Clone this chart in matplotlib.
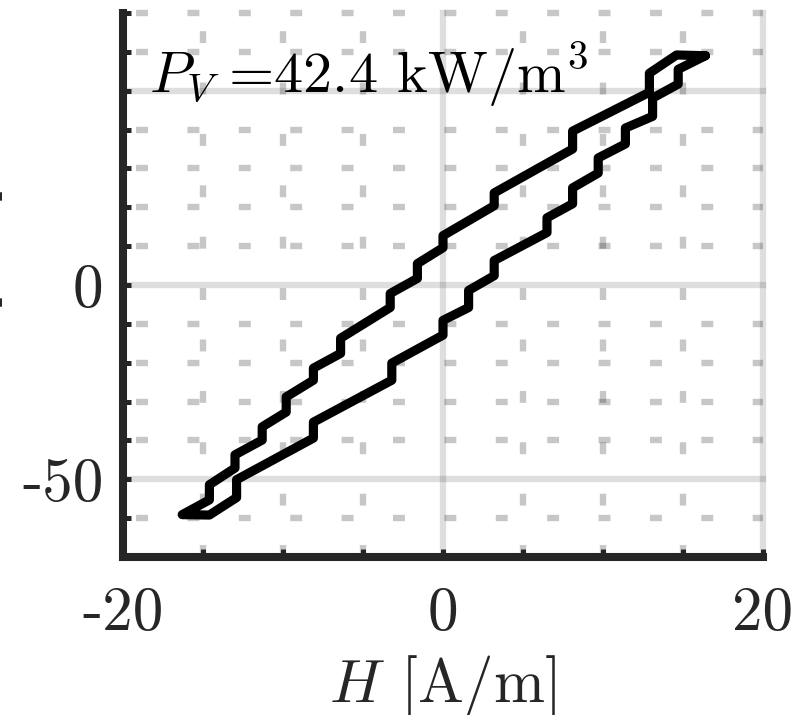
import matplotlib
matplotlib.use('Agg')
import matplotlib.pyplot as plt

# descending branch (upper), from positive tip to negative tip
H_desc = [16.4, 14.6, 12.9, 12.9, 8.1, 8.1, 3.2, 3.2, 0.0, 0.0, -1.6, -1.6, -3.3, -3.3,
          -6.4, -6.4, -8.1, -8.1, -9.8, -9.8, -11.3, -11.3, -13.0, -13.0, -14.6, -14.6, -16.3]
B_desc = [59.0, 59.2, 54.5, 49.6, 39.6, 35.0, 23.7, 20.4, 12.7, 9.6, 5.5, 1.7, -2.2, -5.8,
          -13.7, -17.6, -21.4, -24.5, -28.8, -32.7, -36.5, -39.9, -43.7, -47.1, -51.4, -55.3, -59.1]

# ascending branch (lower), from negative tip to positive tip
H_asc = [-16.3, -14.6, -12.9, -12.9, -8.1, -8.1, -3.2, -3.2, 0.0, 0.0, 1.6, 1.6, 3.2, 3.2,
         6.5, 6.5, 8.1, 8.1, 9.7, 9.7, 11.4, 11.4, 13.1, 13.1, 14.7, 14.7, 16.4]
B_asc = [-59.1, -59.2, -54.7, -50.1, -39.4, -35.3, -24.5, -20.1, -12.9, -9.1, -5.8, -1.4, 2.4, 6.3,
         13.5, 17.3, 20.9, 25.0, 28.8, 32.7, 36.3, 40.4, 43.4, 48.1, 51.7, 55.5, 59.0]

x_ticks = [-20, 0, 20]
x_ticklabels = ['-20', '0', '20']
y_ticks = [-50, 0, 50]
y_ticklabels = ['-50', '0', '']
x_minor = [-15, -10, -5, 5, 10, 15]
y_minor = [-70, -60, -40, -30, -20, -10, 10, 20, 30, 40, 60, 70]

plt.rcParams['font.family'] = 'serif'
plt.rcParams['font.serif'] = ['cmr10']
plt.rcParams['mathtext.fontset'] = 'cm'
plt.rcParams['axes.unicode_minus'] = False
plt.rcParams['lines.scale_dashes'] = False

fig = plt.figure(figsize=(8.06, 7.15), dpi=100)
ax = fig.add_axes([123/806, 158/715, 640/806, 544/715])

ax.plot(H_desc + H_asc, B_desc + B_asc, color='black', lw=6.6,
        solid_joinstyle='round', solid_capstyle='round', zorder=3)

ax.set_xlim(-20, 20)
ax.set_ylim(-70, 70)
ax.set_xticks(x_ticks)
ax.set_xticklabels(x_ticklabels)
ax.set_yticks(y_ticks)
ax.set_yticklabels(y_ticklabels)
ax.set_xticks(x_minor, minor=True)
ax.set_yticks(y_minor, minor=True)

# grid: solid light major lines, short gray dashes for the minor ones
ax.set_axisbelow(True)
ax.grid(True, which='major', color='black', alpha=0.13, lw=4.6, clip_on=False)
ax.xaxis.grid(True, which='minor', color='black', alpha=0.22, lw=4.6,
              ls=(0, (8.6, 28.4)), clip_on=False)
ax.yaxis.grid(True, which='minor', color='black', alpha=0.22, lw=4.6,
              ls=(27.6, (8.6, 28.4)), clip_on=False)

for side in ['top', 'right']:
    ax.spines[side].set_visible(False)
for side in ['left', 'bottom']:
    ax.spines[side].set_linewidth(5.8)
    ax.spines[side].set_color('#262626')

ax.tick_params(which='both', direction='in', length=6, width=3.6, color='#262626',
               labelsize=44, labelcolor='#262626')
ax.tick_params(axis='x', which='both', pad=21)
ax.tick_params(axis='y', which='both', pad=14)

ax.set_xlabel(r'$H$ [A/m]', fontsize=44, color='#262626', labelpad=8)
ax.set_ylabel(r'$B$ [mT]', fontsize=44, color='#262626')
ax.yaxis.set_label_coords(-0.185, 0.5)

ax.text(0.04, 0.855, r'$P_V\;$=42.4 kW/m$^3$', transform=ax.transAxes,
        fontsize=42, ha='left', va='baseline', color='black', zorder=4)

fig.savefig('out.png', dpi=100)
